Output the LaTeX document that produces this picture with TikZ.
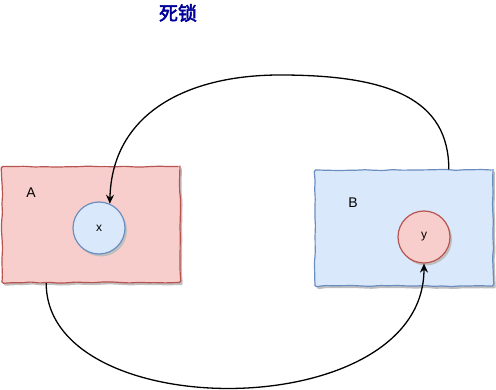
\documentclass[tikz,border=0pt]{standalone}
\usepackage{fontspec}
\setmainfont{Liberation Sans}
\newfontfamily\cjk{Noto Sans CJK SC}[AutoFakeBold=2.5]
\usetikzlibrary{calc,shadows,decorations.pathmorphing,arrows.meta}
\definecolor{redfill}{HTML}{F8CECC}
\definecolor{redline}{HTML}{B85450}
\definecolor{bluefill}{HTML}{DAE8FC}
\definecolor{blueline}{HTML}{6C8EBF}
\definecolor{titleblue}{HTML}{000099}
\begin{document}
\pgfmathsetseed{7}
\begin{tikzpicture}[x=1pt,y=-1pt,
  sketch/.style={decorate,decoration={random steps,segment length=9pt,amplitude=0.55pt},rounded corners=1.5pt},
  shade/.style={general shadow={fill=black!25,shadow xshift=2pt,shadow yshift=-2.5pt}},
  proc/.style={rectangle,minimum width=178pt,minimum height=116pt,line width=1.2pt,inner sep=0pt,sketch,shade},
  res/.style={circle,minimum size=52pt,inner sep=0pt,line width=1.2pt,shade,font=\fontsize{12}{14}\selectfont},
  lab/.style={font=\fontsize{14}{16}\selectfont},
  link/.style={-{Stealth[length=9pt,width=8pt,inset=3pt]},line width=1.3pt,black}]
\useasboundingbox (0,0) rectangle (496,390);
\node[font=\cjk\bfseries\fontsize{19}{21}\selectfont,text=titleblue] (title) at (178,13) {死锁};
\node[proc,fill=redfill,draw=redline] (A) at (91,224.5) {};
\node[proc,fill=bluefill,draw=blueline] (B) at (404,228) {};
\node[lab] (la) at (31,193) {A};
\node[lab] (lb) at (353,203) {B};
\node[res,fill=bluefill,draw=blueline] (X) at (99,228) {x};
\node[res,fill=redfill,draw=redline] (Y) at (424,237) {y};
\coordinate (top) at (280,75);
\draw[link] ($(B.north west)!0.75!(B.north east)$) .. controls +(0,-70) and +(110,0) .. (top)
  .. controls +(-95,0) and ($(X.66)+(2,-89)$) .. (X.66);
\draw[link] ($(A.south west)!0.25!(A.south east)$) .. controls +(0,143) and ($(Y.south)+(0,162)$) .. (Y.south);
\end{tikzpicture}
\end{document}
